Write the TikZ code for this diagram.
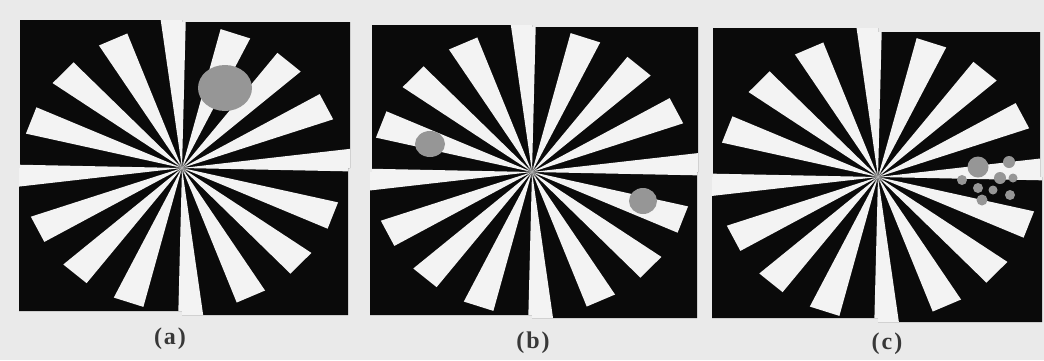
\documentclass[tikz,border=0pt]{standalone}
\usepackage{fontspec}
\setmainfont{Liberation Serif}
\definecolor{bg}{RGB}{234,234,234}
\definecolor{wh}{RGB}{243,243,243}
\definecolor{dk}{RGB}{10,10,10}
\definecolor{blob}{RGB}{150,150,150}
\tikzset{
  quad/.style={fill=dk},
  ray/.style={fill=wh},
  spot/.style={fill=blob},
  hub/.style={fill=blob, opacity=0.45},
  lab/.style={inner sep=0pt, font=\fontsize{24}{24}\selectfont\bfseries, text=black!78}
}
\newcommand{\starpanel}[5]{%
  \fill[quad] #2 rectangle #1 #3 rectangle #1 #4 rectangle #1 #5 rectangle #1;
  \begin{scope}[shift={#1}, yscale=-0.89]
    \foreach \k in {1,2,3,5,6,7,9,10,11,13,14,15} {
      \pgfmathsetmacro\a{3+22.5*\k}
      \fill[ray] (0,0) -- (\a-5.6:{160/cos(5.6)}) -- (\a+5.6:{160/cos(5.6)}) -- cycle;
    }
  \end{scope}
  \begin{scope}
    \clip #2 rectangle #1 #3 rectangle #1 #4 rectangle #1 #5 rectangle #1;
    \begin{scope}[shift={#1}, yscale=-0.89]
      \foreach \k in {0,4,8,12} {
        \pgfmathsetmacro\a{3+22.5*\k}
        \fill[ray] (0,0) -- (\a-4.3:260) -- (\a+4.3:260) -- cycle;
      }
    \end{scope}
  \end{scope}
  \fill[hub] #1 circle[radius=6];
}
\begin{document}
\begin{tikzpicture}[x=1pt, y=-1pt]
  \fill[bg] (0,0) rectangle (1044,360);
  \useasboundingbox (0,0) rectangle (1044,360);
  % panel (a)
  \starpanel{(182,168)}{(20,20)}{(350,22)}{(348,315)}{(19,311)}
  \fill[spot] (225,88) ellipse[x radius=27, y radius=23];
  % panel (b)
  \starpanel{(532,172)}{(372,25)}{(698,27)}{(697,318)}{(370,315)}
  \fill[spot] (430,144) ellipse[x radius=15, y radius=13];
  \fill[spot] (643,201) ellipse[x radius=14, y radius=13];
  % panel (c)
  \starpanel{(878,177)}{(713,28)}{(1040,32)}{(1042,322)}{(712,318)}
  \fill[spot] (978,167) circle[radius=10.5];
  \fill[spot] (1009,162) circle[radius=6];
  \fill[spot] (962,180) circle[radius=5];
  \fill[spot] (1000,178) circle[radius=6];
  \fill[spot] (1013,178) circle[radius=4.5];
  \fill[spot] (978,188) circle[radius=5];
  \fill[spot] (993,190) circle[radius=4.5];
  \fill[spot] (1010,195) circle[radius=5];
  \fill[spot] (982,200) circle[radius=5.5];
  % labels
  \node[lab] (la) at (170,339) {(\kern2pt a\kern2pt)};
  \node[lab] (lb) at (533,343) {(\kern2pt b\kern2pt)};
  \node[lab] (lc) at (887,344) {(\kern2pt c\kern2pt)};
\end{tikzpicture}
\end{document}
